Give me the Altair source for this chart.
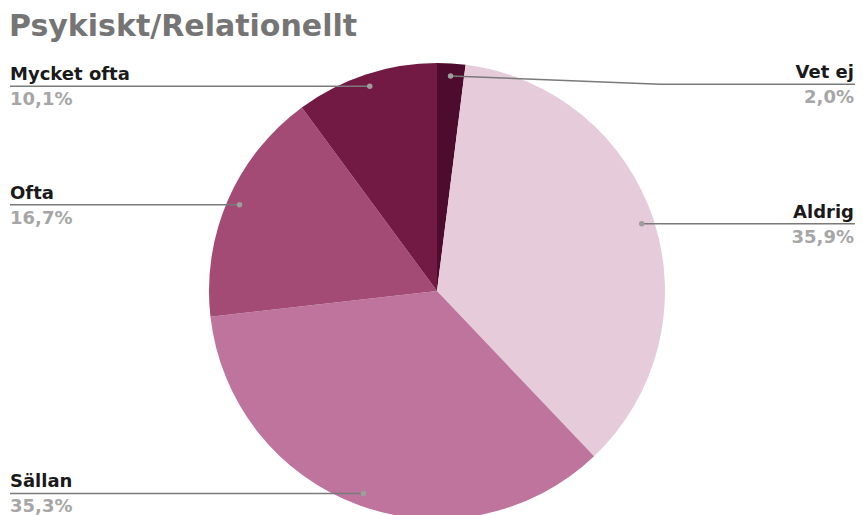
import math
import altair as alt
import pandas as pd

# ---- data ----
categories = ["Vet ej", "Aldrig", "Sällan", "Ofta", "Mycket ofta"]
values = [2.0, 35.9, 35.3, 16.7, 10.1]
value_labels = ["2,0%", "35,9%", "35,3%", "16,7%", "10,1%"]
colors = ["#4d0b2d", "#e6cbdb", "#be749d", "#a34b75", "#721a44"]
sides = ["right", "right", "left", "left", "left"]
title_text = "Psykiskt/Relationellt"

# ---- layout constants (pixels) ----
W, H, PAD_TOP = 847, 457, 50
CX, CY, R = 429, 233, 228
x_dom = [-CX / R, (W - CX) / R]
y_dom = [-(H - CY) / R, CY / R]
DOT_R = 0.945
LEFT_X = (2 - CX) / R
RIGHT_X = x_dom[1]
RIGHT_TEXT_X = (W - 1 - CX) / R
label_shift = {"Vet ej": -0.036}
elbow_x = {"Vet ej": (652 - CX) / R}

total = sum(values)
rows, lines = [], []
cum = 0.0
for i, (c, v, vl, s) in enumerate(zip(categories, values, value_labels, sides)):
    mid = (cum + v / 2) / total * 2 * math.pi
    cum += v
    dx, dy = DOT_R * math.sin(mid), DOT_R * math.cos(mid)
    ly = dy + label_shift.get(c, 0.0)
    tx = LEFT_X if s == "left" else RIGHT_TEXT_X
    rows.append(dict(idx=i, cat=c, val=v, vlab=vl, side=s, dx=dx, dy=dy, ly=ly, tx=tx))
    pts = [(dx, dy)]
    if c in elbow_x:
        pts.append((elbow_x[c], ly))
    pts.append((LEFT_X if s == "left" else RIGHT_X, ly))
    for k, (px, py) in enumerate(pts):
        lines.append(dict(cat=c, k=k, x=px, y=py))

df = pd.DataFrame(rows)
ldf = pd.DataFrame(lines)

xs = alt.Scale(domain=x_dom, nice=False, zero=False)
ys = alt.Scale(domain=y_dom, nice=False, zero=False)
FONT = "DejaVu Sans"

pie = alt.Chart(df).mark_arc(outerRadius=R, stroke=None).encode(
    theta=alt.Theta("val:Q", stack=True),
    order=alt.Order("idx:Q", sort="ascending"),
    color=alt.Color("cat:N", scale=alt.Scale(domain=categories, range=colors), legend=None),
    x=alt.X(datum=0, type="quantitative", scale=xs, axis=None),
    y=alt.Y(datum=0, type="quantitative", scale=ys, axis=None),
)

leader = alt.Chart(ldf).mark_line(color="#7a7a7a", strokeWidth=1.5, interpolate="linear").encode(
    x=alt.X("x:Q", scale=xs, axis=None),
    y=alt.Y("y:Q", scale=ys, axis=None),
    detail="cat:N",
    order="k:Q",
)

dots = alt.Chart(df).mark_circle(color="#9e9e9e", size=30, opacity=1).encode(
    x=alt.X("dx:Q", scale=xs, axis=None),
    y=alt.Y("dy:Q", scale=ys, axis=None),
)

def labels(side, align):
    base = alt.Chart(df).transform_filter(alt.datum.side == side)
    name = base.mark_text(align=align, baseline="alphabetic", dy=-6, font=FONT,
                          fontSize=18, fontWeight="bold", color="#1a1a1a").encode(
        x=alt.X("tx:Q", scale=xs, axis=None),
        y=alt.Y("ly:Q", scale=ys, axis=None),
        text="cat:N",
    )
    val = base.mark_text(align=align, baseline="alphabetic", dy=19, font=FONT,
                         fontSize=18, fontWeight="bold", color="#a6a6a6").encode(
        x=alt.X("tx:Q", scale=xs, axis=None),
        y=alt.Y("ly:Q", scale=ys, axis=None),
        text="vlab:N",
    )
    return name + val

chart = alt.layer(pie, leader, dots, labels("left", "left"), labels("right", "right")).properties(
    width=W,
    height=H,
    title=alt.Title(title_text, anchor="start", font=FONT, fontSize=30, fontWeight="bold",
                    color="#757575", offset=16, dx=2),
    autosize=alt.AutoSizeParams(type="none"),
    padding={"left": 0, "top": PAD_TOP, "right": 0, "bottom": 0},
).configure_view(stroke=None)

chart.save("out.html", embed_options={"renderer": "svg", "actions": False})
